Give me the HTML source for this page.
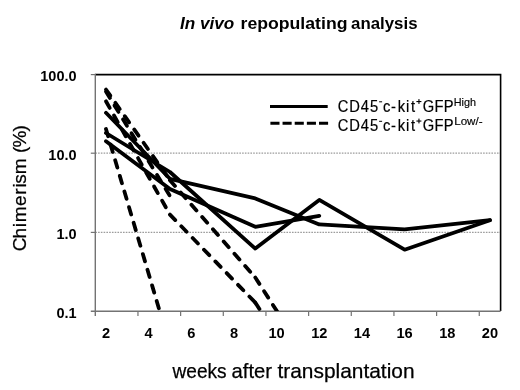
<!DOCTYPE html>
<html><head><meta charset="utf-8"><style>
html,body{margin:0;padding:0;background:#fff;}
svg{display:block;will-change:transform;}
</style></head><body>
<svg width="520" height="390" viewBox="0 0 520 390">
<rect width="520" height="390" fill="#fff"/>
<defs><clipPath id="pc"><rect x="95.3" y="74.6" width="405.30" height="236.40"/></clipPath></defs>
<line x1="95.3" y1="153.2" x2="500.6" y2="153.2" stroke="#9c9c9c" stroke-width="1.3" stroke-dasharray="1.6 1.17"/>
<line x1="95.3" y1="232.4" x2="500.6" y2="232.4" stroke="#9c9c9c" stroke-width="1.3" stroke-dasharray="1.6 1.17"/>
<polyline points="95.3,74.6 500.6,74.6 500.6,311.0" fill="none" stroke="#000" stroke-width="1.6"/>
<line x1="95.3" y1="73.8" x2="95.3" y2="316.0" stroke="#737373" stroke-width="1.4"/>
<line x1="90.8" y1="311.3" x2="500.6" y2="311.3" stroke="#737373" stroke-width="1.6"/>
<line x1="90.8" y1="74.6" x2="95.3" y2="74.6" stroke="#737373" stroke-width="1.2"/>
<line x1="90.8" y1="153.2" x2="95.3" y2="153.2" stroke="#737373" stroke-width="1.2"/>
<line x1="90.8" y1="232.4" x2="95.3" y2="232.4" stroke="#737373" stroke-width="1.2"/>
<line x1="137.96" y1="311.0" x2="137.96" y2="316.0" stroke="#737373" stroke-width="1.2"/>
<line x1="180.63" y1="311.0" x2="180.63" y2="316.0" stroke="#737373" stroke-width="1.2"/>
<line x1="223.29" y1="311.0" x2="223.29" y2="316.0" stroke="#737373" stroke-width="1.2"/>
<line x1="265.95" y1="311.0" x2="265.95" y2="316.0" stroke="#737373" stroke-width="1.2"/>
<line x1="308.62" y1="311.0" x2="308.62" y2="316.0" stroke="#737373" stroke-width="1.2"/>
<line x1="351.28" y1="311.0" x2="351.28" y2="316.0" stroke="#737373" stroke-width="1.2"/>
<line x1="393.94" y1="311.0" x2="393.94" y2="316.0" stroke="#737373" stroke-width="1.2"/>
<line x1="436.61" y1="311.0" x2="436.61" y2="316.0" stroke="#737373" stroke-width="1.2"/>
<line x1="479.27" y1="311.0" x2="479.27" y2="316.0" stroke="#737373" stroke-width="1.2"/>
<g clip-path="url(#pc)" fill="none" stroke="#000" stroke-linejoin="round" stroke-linecap="round" stroke-width="3.8">
<polyline points="105.97,112.80 169.96,178.80 255.29,198.40 319.28,224.40 404.61,229.40 489.93,220.20"/>
<polyline points="105.97,133.00 169.96,172.00 255.29,248.60 319.28,199.90 404.61,249.70 489.93,220.20"/>
<polyline points="105.97,141.20 169.96,189.00 255.29,226.80 319.28,215.80"/>
<polyline points="105.97,89.50 169.96,180.20" stroke-dasharray="7.6 8.7"/>
<polyline points="169.96,180.20 255.29,277.50" stroke-dasharray="7.6 8.7"/>
<polyline points="255.29,277.50 319.28,377.00" stroke-dasharray="7.6 8.7"/>
<polyline points="105.97,91.50 169.96,196.00" stroke-dasharray="7.6 8.7"/>
<polyline points="105.97,101.30 169.96,214.60" stroke-dasharray="7.6 8.7"/>
<polyline points="169.96,214.60 255.29,302.60" stroke-dasharray="7.6 8.7"/>
<polyline points="255.29,302.60 319.28,402.00" stroke-dasharray="7.6 8.7"/>
<polyline points="105.97,129.00 169.96,346.00" stroke-dasharray="7.6 8.7"/>
</g>
<line x1="270" y1="106.5" x2="327.7" y2="106.5" stroke="#000" stroke-width="3.1"/>
<line x1="270.4" y1="123.3" x2="328.3" y2="123.3" stroke="#000" stroke-width="3.1" stroke-dasharray="9.1 3.05"/>
<text x="180.00" y="29.00" font-family="Liberation Sans" font-size="17" font-weight="bold" font-style="italic" textLength="54.30" lengthAdjust="spacingAndGlyphs">In vivo</text>
<text x="240.50" y="29.00" font-family="Liberation Sans" font-size="17" font-weight="bold" textLength="107.00" lengthAdjust="spacingAndGlyphs">repopulating</text>
<text x="351.10" y="29.00" font-family="Liberation Sans" font-size="17" font-weight="bold" textLength="66.40" lengthAdjust="spacingAndGlyphs">analysis</text>
<text x="172.50" y="377.50" font-family="Liberation Sans" font-size="20.2" textLength="54.10" lengthAdjust="spacingAndGlyphs" stroke="#000" stroke-width="0.25">weeks</text>
<text x="231.50" y="377.50" font-family="Liberation Sans" font-size="20.2" textLength="40.50" lengthAdjust="spacingAndGlyphs" stroke="#000" stroke-width="0.25">after</text>
<text x="277.50" y="377.50" font-family="Liberation Sans" font-size="20.2" textLength="137.00" lengthAdjust="spacingAndGlyphs" stroke="#000" stroke-width="0.25">transplantation</text>
<text x="76.60" y="81.35" font-family="Liberation Sans" font-size="14.5" font-weight="bold" text-anchor="end">100.0</text>
<text x="76.60" y="160.15" font-family="Liberation Sans" font-size="14.5" font-weight="bold" text-anchor="end">10.0</text>
<text x="76.60" y="238.85" font-family="Liberation Sans" font-size="14.5" font-weight="bold" text-anchor="end">1.0</text>
<text x="76.60" y="317.75" font-family="Liberation Sans" font-size="14.5" font-weight="bold" text-anchor="end">0.1</text>
<text x="105.97" y="338.30" font-family="Liberation Sans" font-size="14.6" font-weight="bold" text-anchor="middle">2</text>
<text x="148.63" y="338.30" font-family="Liberation Sans" font-size="14.6" font-weight="bold" text-anchor="middle">4</text>
<text x="191.29" y="338.30" font-family="Liberation Sans" font-size="14.6" font-weight="bold" text-anchor="middle">6</text>
<text x="233.96" y="338.30" font-family="Liberation Sans" font-size="14.6" font-weight="bold" text-anchor="middle">8</text>
<text x="276.62" y="338.30" font-family="Liberation Sans" font-size="14.6" font-weight="bold" text-anchor="middle">10</text>
<text x="319.28" y="338.30" font-family="Liberation Sans" font-size="14.6" font-weight="bold" text-anchor="middle">12</text>
<text x="361.94" y="338.30" font-family="Liberation Sans" font-size="14.6" font-weight="bold" text-anchor="middle">14</text>
<text x="404.61" y="338.30" font-family="Liberation Sans" font-size="14.6" font-weight="bold" text-anchor="middle">16</text>
<text x="447.27" y="338.30" font-family="Liberation Sans" font-size="14.6" font-weight="bold" text-anchor="middle">18</text>
<text x="489.93" y="338.30" font-family="Liberation Sans" font-size="14.6" font-weight="bold" text-anchor="middle">20</text>
<g transform="matrix(0.92,0,0,1,27.040,0)"><text x="337.77 350.21 362.84 372.68 387.04 395.50 402.97 411.93 417.35 430.09 442.95 452.94" y="111.60" font-family="Liberation Sans" font-size="16.0" stroke="#000" stroke-width="0.2">CD45c-kitGFP</text></g>
<text x="453.70" y="105.90" font-family="Liberation Sans" font-size="10.3" textLength="22.30" lengthAdjust="spacingAndGlyphs" stroke="#000" stroke-width="0.15">High</text>
<g transform="matrix(0.92,0,0,1,27.040,0)"><text x="337.77 350.21 362.84 372.68 387.04 395.50 402.97 411.93 417.35 430.09 442.95 452.94" y="131.10" font-family="Liberation Sans" font-size="16.0" stroke="#000" stroke-width="0.2">CD45c-kitGFP</text></g>
<text x="454.20" y="125.40" font-family="Liberation Sans" font-size="10.3" textLength="28.40" lengthAdjust="spacingAndGlyphs" stroke="#000" stroke-width="0.15">Low/-</text>
<rect x="379.1" y="101.3" width="3.0" height="1.0" fill="#000"/>
<rect x="416.4" y="101.0" width="5.0" height="1.1" fill="#000"/>
<rect x="418.4" y="99.1" width="1.1" height="4.8" fill="#000"/>
<rect x="379.1" y="120.8" width="3.0" height="1.0" fill="#000"/>
<rect x="416.4" y="120.5" width="5.0" height="1.1" fill="#000"/>
<rect x="418.4" y="118.6" width="1.1" height="4.8" fill="#000"/>
<text transform="translate(26.0,250.1) rotate(-90)" x="-1.21 11.58 22.75 27.84 44.22 55.32 62.50 66.43 75.88 92.02 97.10 102.61 118.68" y="0" font-family="Liberation Sans" font-size="19.0" stroke="#000" stroke-width="0.25">Chimerism (%)</text>
</svg>
</body></html>
